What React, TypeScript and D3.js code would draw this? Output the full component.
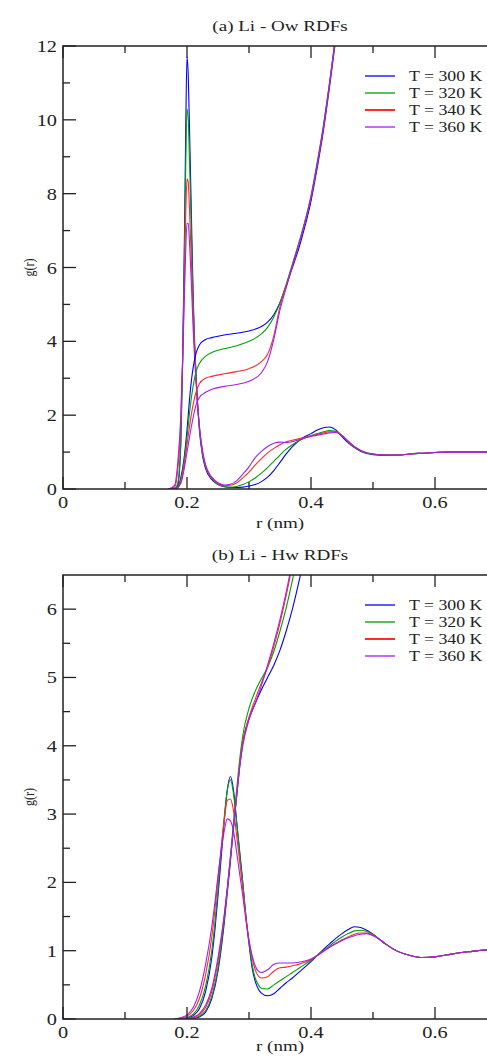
import * as d3 from "d3";

// temperatures and colours (xmgrace style)
const temps = ["T = 300 K", "T = 320 K", "T = 340 K", "T = 360 K"];
const colors = ["#0000ff", "#00a000", "#ff2a2a", "#a020f0"];

const xMajor = [0, 0.2, 0.4, 0.6];
const xMajorLabels = ["0", "0.2", "0.4", "0.6"];
const xMinor = [0.1, 0.3, 0.5, 0.7];

const yMajorA = [0, 2, 4, 6, 8, 10, 12];
const yMinorA = [1, 3, 5, 7, 9, 11];
const yMajorB = [0, 1, 2, 3, 4, 5, 6];
const yMinorB = [0.5, 1.5, 2.5, 3.5, 4.5, 5.5];

// (a) Li - Ow : g(r)
const rA = [0.17, 0.18, 0.185, 0.19, 0.193, 0.196, 0.198, 0.2, 0.202, 0.204, 0.207, 0.21, 0.215, 0.22, 0.225, 0.23,
  0.24, 0.25, 0.26, 0.27, 0.28, 0.29, 0.30, 0.31, 0.32, 0.33, 0.34, 0.35, 0.36, 0.37, 0.38, 0.39, 0.40, 0.41, 0.42,
  0.43, 0.44, 0.45, 0.46, 0.47, 0.48, 0.49, 0.50, 0.52, 0.54, 0.56, 0.58, 0.60, 0.62, 0.64, 0.66, 0.68, 0.70];
const gA300 = [0, 0, 0.1, 1.2, 3.5, 7.0, 9.8, 11.7, 11.2, 9.8, 7.5, 5.2, 2.9, 1.6, 0.9, 0.55,
  0.25, 0.12, 0.06, 0.04, 0.04, 0.05, 0.08, 0.12, 0.2, 0.32, 0.5, 0.72, 0.95, 1.15, 1.3, 1.42, 1.5, 1.6, 1.66,
  1.68, 1.6, 1.42, 1.25, 1.12, 1.02, 0.96, 0.93, 0.91, 0.92, 0.95, 0.97, 0.99, 1.0, 1.0, 1.0, 1.0, 0.99];
const gA320 = [0, 0, 0.15, 1.3, 3.5, 6.5, 8.8, 10.3, 10.0, 8.9, 7.0, 5.0, 2.9, 1.65, 0.95, 0.6,
  0.28, 0.13, 0.07, 0.05, 0.07, 0.12, 0.2, 0.3, 0.43, 0.58, 0.75, 0.92, 1.08, 1.2, 1.3, 1.38, 1.45, 1.5, 1.55,
  1.58, 1.56, 1.45, 1.27, 1.13, 1.03, 0.97, 0.94, 0.92, 0.92, 0.95, 0.97, 0.99, 1.0, 1.0, 1.0, 1.0, 0.99];
const gA340 = [0, 0.05, 0.5, 1.8, 3.6, 5.9, 7.5, 8.4, 8.3, 7.6, 6.2, 4.7, 2.9, 1.7, 1.0, 0.62,
  0.3, 0.15, 0.09, 0.1, 0.16, 0.3, 0.46, 0.65, 0.82, 0.98, 1.1, 1.2, 1.28, 1.32, 1.36, 1.4, 1.44, 1.48, 1.52,
  1.55, 1.55, 1.45, 1.28, 1.14, 1.04, 0.98, 0.95, 0.92, 0.92, 0.95, 0.97, 0.99, 1.0, 1.0, 1.0, 1.0, 0.99];
const gA360 = [0, 0.1, 0.7, 2.0, 3.5, 5.3, 6.5, 7.2, 7.2, 6.7, 5.6, 4.3, 2.8, 1.7, 1.05, 0.65,
  0.32, 0.17, 0.11, 0.13, 0.22, 0.4, 0.6, 0.85, 1.02, 1.15, 1.24, 1.27, 1.26, 1.28, 1.33, 1.38, 1.42, 1.46, 1.49,
  1.52, 1.53, 1.45, 1.3, 1.15, 1.05, 0.98, 0.95, 0.92, 0.92, 0.95, 0.97, 0.99, 1.0, 1.0, 1.0, 1.0, 0.99];

// (a) running coordination number
const nrA = [0.17, 0.183, 0.19, 0.195, 0.2, 0.205, 0.21, 0.215, 0.22, 0.23, 0.24, 0.26, 0.28, 0.30, 0.32, 0.33,
  0.34, 0.35, 0.36, 0.37, 0.38, 0.39, 0.40, 0.41, 0.42, 0.43, 0.44, 0.45];
const nA300 = [0, 0, 0.3, 0.8, 1.6, 2.6, 3.3, 3.7, 3.9, 4.05, 4.1, 4.17, 4.22, 4.28, 4.4, 4.52,
  4.72, 5.05, 5.5, 6.0, 6.5, 7.1, 7.8, 8.7, 9.7, 10.9, 12.2, 13.5];
const nA320 = [0, 0, 0.25, 0.7, 1.4, 2.2, 2.8, 3.2, 3.4, 3.6, 3.7, 3.8, 3.88, 4.0, 4.2, 4.38,
  4.66, 5.05, 5.55, 6.1, 6.65, 7.25, 7.95, 8.85, 9.85, 11.0, 12.3, 13.6];
const nA340 = [0, 0.02, 0.2, 0.6, 1.2, 1.8, 2.3, 2.65, 2.85, 3.0, 3.05, 3.12, 3.18, 3.26, 3.45, 3.65,
  4.15, 4.95, 5.5, 6.05, 6.6, 7.2, 7.9, 8.8, 9.8, 11.0, 12.3, 13.6];
const nA360 = [0, 0.03, 0.15, 0.5, 1.0, 1.5, 1.95, 2.3, 2.48, 2.62, 2.7, 2.78, 2.83, 2.92, 3.15, 3.45,
  4.05, 4.85, 5.45, 6.05, 6.6, 7.2, 7.9, 8.8, 9.8, 11.0, 12.3, 13.6];

// (b) Li - Hw : g(r)
const rB = [0.18, 0.19, 0.2, 0.21, 0.22, 0.23, 0.24, 0.245, 0.25, 0.255, 0.26, 0.265, 0.27, 0.275, 0.28, 0.285,
  0.29, 0.295, 0.30, 0.305, 0.31, 0.315, 0.32, 0.33, 0.34, 0.35, 0.36, 0.37, 0.38, 0.39, 0.40, 0.41, 0.42, 0.43,
  0.44, 0.45, 0.46, 0.47, 0.48, 0.49, 0.50, 0.51, 0.52, 0.54, 0.56, 0.58, 0.60, 0.62, 0.64, 0.66, 0.68, 0.70];
const gB300 = [0, 0, 0.01, 0.05, 0.15, 0.4, 0.9, 1.3, 1.8, 2.35, 2.9, 3.35, 3.55, 3.35, 2.9, 2.45,
  2.0, 1.5, 1.1, 0.75, 0.55, 0.44, 0.38, 0.34, 0.37, 0.45, 0.53, 0.6, 0.68, 0.76, 0.84, 0.93, 1.02, 1.1,
  1.18, 1.25, 1.31, 1.35, 1.34, 1.3, 1.24, 1.17, 1.1, 0.99, 0.93, 0.9, 0.91, 0.94, 0.97, 0.99, 1.01, 1.02];
const gB320 = [0, 0, 0.02, 0.07, 0.2, 0.48, 1.0, 1.4, 1.9, 2.45, 2.95, 3.35, 3.5, 3.3, 2.88, 2.42,
  1.98, 1.5, 1.12, 0.8, 0.6, 0.5, 0.45, 0.44, 0.5, 0.56, 0.62, 0.68, 0.74, 0.8, 0.86, 0.93, 1.0, 1.07,
  1.14, 1.2, 1.25, 1.29, 1.3, 1.28, 1.24, 1.17, 1.1, 0.99, 0.93, 0.9, 0.91, 0.94, 0.97, 0.99, 1.01, 1.02];
const gB340 = [0, 0.01, 0.04, 0.12, 0.3, 0.65, 1.2, 1.6, 2.05, 2.5, 2.9, 3.2, 3.22, 3.05, 2.7, 2.3,
  1.9, 1.5, 1.15, 0.9, 0.72, 0.63, 0.6, 0.62, 0.7, 0.75, 0.76, 0.78, 0.8, 0.83, 0.87, 0.93, 0.99, 1.05,
  1.11, 1.16, 1.2, 1.24, 1.26, 1.26, 1.23, 1.17, 1.1, 0.99, 0.93, 0.9, 0.91, 0.94, 0.97, 0.99, 1.01, 1.02];
const gB360 = [0, 0.02, 0.06, 0.17, 0.4, 0.8, 1.35, 1.7, 2.1, 2.45, 2.75, 2.93, 2.9, 2.75, 2.45, 2.12,
  1.8, 1.45, 1.15, 0.93, 0.78, 0.7, 0.68, 0.72, 0.8, 0.82, 0.82, 0.82, 0.83, 0.85, 0.88, 0.93, 0.99, 1.05,
  1.1, 1.15, 1.19, 1.22, 1.24, 1.25, 1.22, 1.17, 1.1, 0.99, 0.93, 0.9, 0.91, 0.94, 0.97, 0.99, 1.01, 1.02];

// (b) running coordination number
const nrB = [0.19, 0.2, 0.21, 0.22, 0.23, 0.24, 0.25, 0.26, 0.265, 0.27, 0.275, 0.28, 0.285, 0.29, 0.30, 0.31,
  0.32, 0.33, 0.34, 0.35, 0.36, 0.37, 0.38, 0.39, 0.40];
const nB300 = [0, 0, 0.01, 0.03, 0.1, 0.3, 0.7, 1.4, 1.85, 2.3, 2.8, 3.25, 3.7, 4.05, 4.4, 4.62,
  4.82, 5.0, 5.18, 5.4, 5.68, 6.0, 6.38, 6.8, 7.25];
const nB320 = [0, 0, 0.01, 0.04, 0.12, 0.33, 0.75, 1.45, 1.9, 2.38, 2.88, 3.35, 3.8, 4.15, 4.55, 4.8,
  4.98, 5.15, 5.38, 5.68, 6.02, 6.42, 6.88, 7.35, 7.85];
const nB340 = [0, 0.01, 0.02, 0.06, 0.17, 0.4, 0.85, 1.5, 1.9, 2.35, 2.82, 3.28, 3.72, 4.05, 4.42, 4.68,
  4.92, 5.15, 5.45, 5.8, 6.2, 6.65, 7.1, 7.6, 8.1];
const nB360 = [0, 0.01, 0.03, 0.08, 0.2, 0.45, 0.9, 1.52, 1.92, 2.35, 2.8, 3.25, 3.68, 4.0, 4.38, 4.62,
  4.88, 5.18, 5.5, 5.85, 6.25, 6.7, 7.15, 7.65, 8.15];

const font = "'Liberation Serif', 'Times New Roman', serif";
const ink = "#222";
const stretch = 1.27;

function Txt({ x, y, anchor = "middle", size = 16, children }: any) {
  return (
    <text transform={`translate(${x},${y}) scale(${stretch},1)`} textAnchor={anchor}
      fontSize={size} fontFamily={font} fill={ink}>{children}</text>
  );
}

const x = d3.scaleLinear([0, 0.7], [63, 497]);

function Panel({ id, title, titleY, top, bottom, labelY, yMax, yMajor, yMinor, rdf, rdfR, cn, cnR }: any) {
  const y = d3.scaleLinear([0, yMax], [bottom, top]);
  const line = (rs: number[], vs: number[]) =>
    d3.line<number>((d, i) => x(rs[i]), (d) => y(d)).curve(d3.curveMonotoneX)(vs) as string;
  const left = x(0), right = x(0.7);
  return (
    <g>
      <defs>
        <clipPath id={id}>
          <rect x={left} y={top} width={right - left} height={bottom - top} />
        </clipPath>
      </defs>
      <Txt x={280} y={titleY} size={15}>{title}</Txt>
      <g clipPath={`url(#${id})`} fill="none" strokeWidth={1.1}>
        {rdf.map((vs: number[], i: number) => (
          <path key={"g" + i} d={line(rdfR, vs)} stroke={colors[i]} />
        ))}
        {cn.map((vs: number[], i: number) => (
          <path key={"n" + i} d={line(cnR, vs)} stroke={colors[i]} />
        ))}
      </g>
      <rect x={left} y={top} width={right - left} height={bottom - top} fill="none" stroke={ink} strokeWidth={1.5} />
      {xMajor.map((v) => (
        <g key={"xm" + v}>
          <line x1={x(v)} x2={x(v)} y1={bottom} y2={bottom - 12} stroke={ink} strokeWidth={1.3} />
          <line x1={x(v)} x2={x(v)} y1={top} y2={top + 12} stroke={ink} strokeWidth={1.3} />
        </g>
      ))}
      {xMinor.map((v) => (
        <g key={"xn" + v}>
          <line x1={x(v)} x2={x(v)} y1={bottom} y2={bottom - 7} stroke={ink} strokeWidth={1.3} />
          <line x1={x(v)} x2={x(v)} y1={top} y2={top + 7} stroke={ink} strokeWidth={1.3} />
        </g>
      ))}
      {yMajor.map((v: number) => (
        <line key={"ym" + v} x1={left} x2={left + 13} y1={y(v)} y2={y(v)} stroke={ink} strokeWidth={1.3} />
      ))}
      {yMinor.map((v: number) => (
        <line key={"yn" + v} x1={left} x2={left + 7} y1={y(v)} y2={y(v)} stroke={ink} strokeWidth={1.3} />
      ))}
      {xMajor.map((v, i) => (
        <Txt key={"xl" + v} x={x(v)} y={bottom + 19}>{xMajorLabels[i]}</Txt>
      ))}
      {yMajor.map((v: number) => (
        <Txt key={"yl" + v} x={57} y={y(v) + 6} anchor="end">{String(v)}</Txt>
      ))}
      <Txt x={280} y={labelY} size={15}>r (nm)</Txt>
      <text transform={`translate(34,${(top + bottom) / 2}) scale(${stretch},1) rotate(-90)`}
        textAnchor="middle" fontSize={12} fontFamily={font} fill={ink}>g(r)</text>
      {temps.map((t, i) => (
        <g key={t}>
          <line x1={365} x2={395} y1={top + 30 + 17 * i} y2={top + 30 + 17 * i} stroke={colors[i]} strokeWidth={i === 2 ? 2 : 1.3} />
          <Txt x={409} y={top + 35 + 17 * i} anchor="start" size={14}>{t}</Txt>
        </g>
      ))}
    </g>
  );
}

export default function App() {
  return (
    <svg width={487} height={1057} style={{ position: "absolute", left: 0, top: 0, background: "#fff" }}>
      <Panel id="clipA" title="(a) Li - Ow RDFs" titleY={31} top={46} bottom={489} labelY={528}
        yMax={12} yMajor={yMajorA} yMinor={yMinorA}
        rdfR={rA} rdf={[gA300, gA320, gA340, gA360]}
        cnR={nrA} cn={[nA300, nA320, nA340, nA360]} />
      <Panel id="clipB" title="(b) Li - Hw RDFs" titleY={560} top={575} bottom={1019} labelY={1051}
        yMax={6.5} yMajor={yMajorB} yMinor={yMinorB}
        rdfR={rB} rdf={[gB300, gB320, gB340, gB360]}
        cnR={nrB} cn={[nB300, nB320, nB340, nB360]} />
    </svg>
  );
}
